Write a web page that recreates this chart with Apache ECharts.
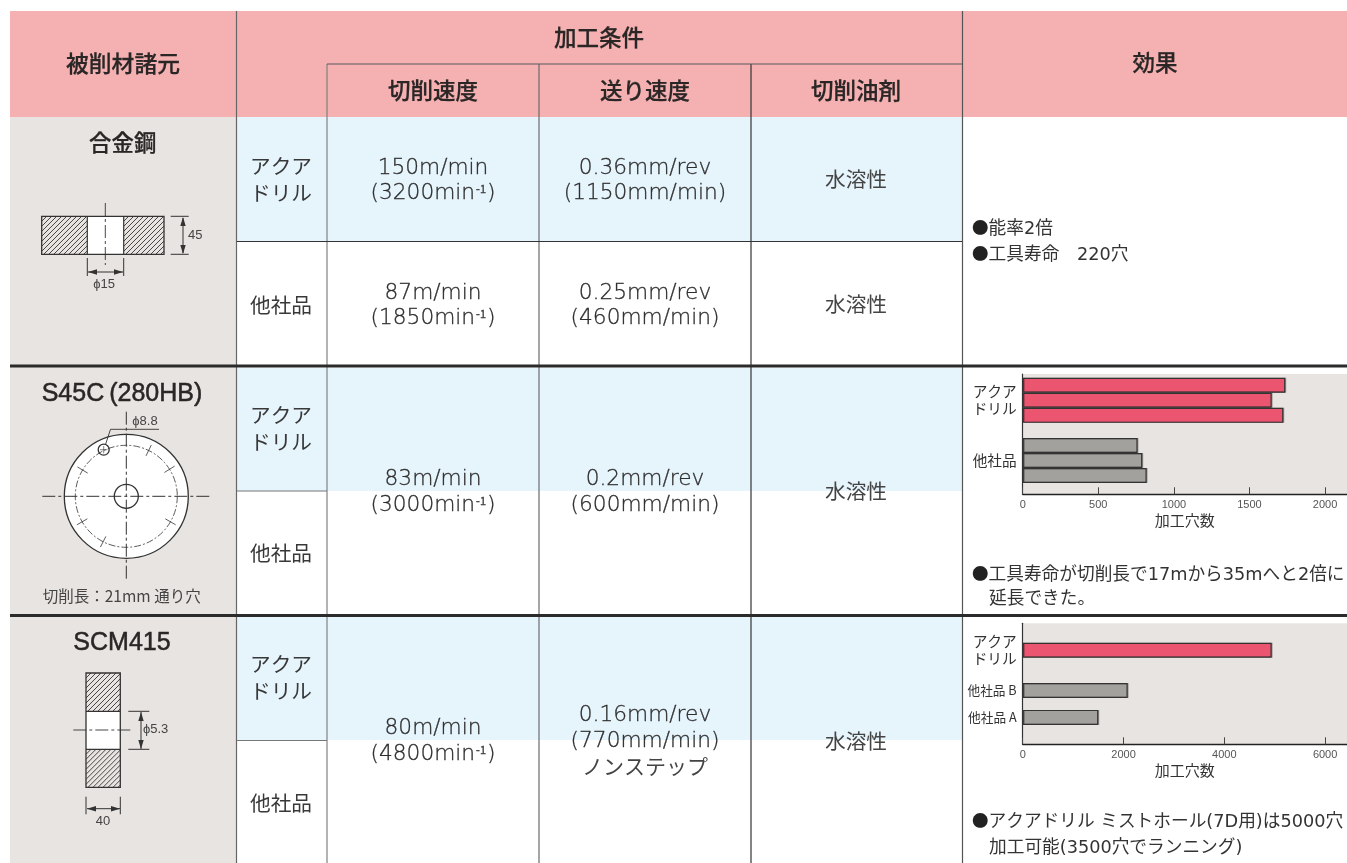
<!DOCTYPE html>
<html><head><meta charset="utf-8">
<style>html,body{margin:0;padding:0;background:#fff}#c{width:1347px;height:863px}</style>
<script src="https://cdn.jsdelivr.net/npm/echarts@6/dist/echarts.min.js"></script>
</head><body><div id="c"></div>
<script>
// ---- chart data ----
const s45cLabels = ['','','','アクア\nドリル','','','','','','','','他社品','','','',''];
const s45cAqua   = [null,1737,null,1647,null,1724,null,null,null,null,null,null,null,null,null,null];
const s45cOther  = [null,null,null,null,null,null,null,null,null,760,null,791,null,820,null,null];
const s45cTicks  = [0,500,1000,1500,2000];
const scmLabels  = ['','','アクア\nドリル','','','他社品 B','','他社品 A','',''];
const scmAqua    = [null,null,4940,null,null,null,null,null,null,null];
const scmOther   = [null,null,null,null,null,2083,null,1500,null,null];
const scmTicks   = [0,2000,4000,6000];
const axisTitle  = '加工穴数';
// ---- table text ----
const headers = ['被削材諸元','加工条件','切削速度','送り速度','切削油剤','効果'];
const materials = ['合金鋼','S45C\u2009(280HB)','SCM415'];
const makers = ['アクア\nドリル','他社品'];
const coolant = '水溶性';
const speedCells = [['150m/min','3200'],['87m/min','1850'],['83m/min','3000'],['80m/min','4800']];
const feedCells = [['0.36mm/rev','(1150mm/min)'],['0.25mm/rev','(460mm/min)'],['0.2mm/rev','(600mm/min)'],['0.16mm/rev','(770mm/min)','ノンステップ']];
const effects = [['能率2倍','工具寿命　220穴'],['工具寿命が切削長で17mから35mへと2倍に','延長できた。'],['アクアドリル ミストホール(7D用)は5000穴','加工可能(3500穴でランニング)']];

const JP = '"Noto Sans CJK JP","Noto Sans",sans-serif';
const LAT = '"DejaVu Sans","Noto Sans CJK JP",sans-serif';
const INK = '#333333', PINK = '#F5B1B2', BLUE = '#E6F4FC', GREY = '#E8E4E1';
const RED = '#EB5570', BARGREY = '#A3A19E';
const g = [];
const rect = (x,y,w,h,fill)=>g.push({type:'rect',silent:true,shape:{x,y,width:w,height:h},style:{fill}});
const line = (x1,y1,x2,y2,stroke=INK,lineWidth=1,lineDash)=>g.push({type:'line',silent:true,shape:{x1,y1,x2,y2},style:{stroke,lineWidth,lineDash}});
const txt = (x,y,text,fontSize,o={})=>g.push({type:'text',silent:true,x,y,style:Object.assign({text,fontSize,fontFamily:JP,fill:'#3a3a3a',align:'center',verticalAlign:'middle'},o)});
const tri = (pts)=>g.push({type:'polygon',silent:true,shape:{points:pts},style:{fill:INK}});
const circle = (cx,cy,r,o)=>g.push({type:'circle',silent:true,shape:{cx,cy,r},style:Object.assign({fill:'#fff',stroke:INK,lineWidth:1.3},o)});

// backgrounds
rect(10,11,1337,106,PINK);
rect(10,117,226,746,GREY);
[[117,124],[368,123],[617,123]].forEach(([y,h])=>rect(237,y,725,h,BLUE));
// grid lines
line(236.5,11,236.5,863,'#666',1.2);
line(327,64,327,863,'#808080',1.2);
line(539,64,539,863,'#6a6a6a',1.2);
line(751,64,751,863,'#333',1.2);
line(962.5,11,962.5,863,'#555',1.2);
line(327,64,962,64,'#5a5a5a',1.2);
line(237,241.5,962,241.5,'#333',1.1);
line(237,491,327,491,'#777',1.2);
line(237,740.5,327,740.5,'#777',1.2);
line(10,366,1347,366,'#2b2b2b',3);
line(10,615.5,1347,615.5,'#2b2b2b',3);

// headers
const HB = {fontWeight:500,fill:'#2a2626',stroke:'#2a2626',lineWidth:0.25};
txt(123,63,headers[0],22.8,HB);
txt(599,37.5,headers[1],22.5,HB);
txt(433,90,headers[2],22.5,HB);
txt(645,90,headers[3],22.5,HB);
txt(856,90,headers[4],22.5,HB);
txt(1155,62,headers[5],22.5,HB);
// materials
txt(122.7,142,materials[0],22.4,HB);
const LB=Object.assign({},HB,{fontFamily:'"Liberation Sans",'+JP,fontWeight:400,lineWidth:0.5});
txt(122,394,materials[1],25,LB);
txt(122,643,materials[2],25,LB);
txt(121.7,596.5,'切削長：21mm 通り穴',15.5,{fill:'#444'});

// maker labels
const mk={fill:'#383838',lineHeight:27};
[179.5,429,677.5].forEach(y=>txt(281,y,makers[0],20.7,mk));
[305,553,803].forEach(y=>txt(281,y,makers[1],20.7,mk));
// coolant
[179,304,491,741].forEach(y=>txt(856,y,coolant,20.7,{fill:'#444'}));

// speed cells
const BF=21.7;
const BC='#2e2e2e';
const body={fontFamily:LAT,fontWeight:200,fill:BC,stroke:BC,lineWidth:0.3};
function speed(y1,y2,c){
  txt(433,y1+1.5,c[0],BF,body);
  txt(433,y2+1.5,'{n|('+c[1]+'min}{s|-1}{n|)}',BF,Object.assign({},body,{rich:{n:{fontFamily:LAT,fontWeight:200,fontSize:BF,fill:BC,stroke:BC,lineWidth:0.3},s:{fontFamily:JP,fontSize:11,fill:'#444',padding:[0,1,9,1]}}}));
}
speed(167,192,speedCells[0]); speed(292,317,speedCells[1]); speed(478,504,speedCells[2]); speed(727,753,speedCells[3]);
function feed(ys,c){ c.forEach((t,i)=>i===2?txt(645,ys[i]-1,t,21,{fill:'#444'}):txt(645,ys[i]+1.5,t,BF,body)); }
feed([167,192],feedCells[0]); feed([292,317],feedCells[1]); feed([478,504],feedCells[2]); feed([714,740,767],feedCells[3]);

// effects
const EF=17.7;
function bullet(y,t){
  txt(972,y,'{b|●}{n|'+t+'}',EF,{align:'left',fontFamily:LAT,rich:{b:{fontFamily:JP,fontSize:16.5,fill:'#222',padding:[0,0,3,0]},n:{fontFamily:LAT,fontSize:EF,fill:'#333'}}});
}
const plain=(y,t)=>txt(989,y,t,EF,{align:'left',fontFamily:LAT,fill:'#333'});
bullet(229,effects[0][0]); bullet(255,effects[0][1]);
bullet(575,effects[1][0]); plain(599,effects[1][1]);
bullet(822,effects[2][0]); plain(848,effects[2][1]);

// hatch helper
function hatch(x0,y0,x1,y1){
  const step=5;
  for(let c=x0+y0+step;c<x1+y1;c+=step){
    const ax=Math.max(x0,c-y1), ay=c-ax, bx=Math.min(x1,c-y0), by=c-bx;
    if(bx>ax) line(ax,ay,bx,by,'#333',0.9);
  }
}
const frame=(x,y,w,h)=>g.push({type:'rect',silent:true,shape:{x,y,width:w,height:h},style:{fill:'none',stroke:'#333',lineWidth:1.3}});
const DD=[13,3,3,3];
const DIM={fontFamily:'"Liberation Sans"',fill:'#444'};
const DIML=Object.assign({},DIM,{align:'left'});
// diagram 1
hatch(41.7,216.3,87.3,254.3); hatch(123.7,216.3,164,254.3);
rect(87.3,216.3,36.4,38,'#fff');
frame(41.7,216.3,122.3,38); line(87.3,216.3,87.3,254.3,'#333',1.2); line(123.7,216.3,123.7,254.3,'#333',1.2);
line(105.3,203,105.3,265,'#333',0.9,DD);
line(170.7,216.3,188.7,216.3); line(170.7,254.3,188.7,254.3); line(183,218,183,253);
tri([[183,217],[180.3,226],[185.7,226]]); tri([[183,254],[180.3,245],[185.7,245]]);
txt(188,235.7,'45',13,DIML);
line(87.3,258,87.3,276); line(123.7,258,123.7,276); line(88,272,123,272);
tri([[88,272],[97,269.3],[97,274.7]]); tri([[123,272],[114,269.3],[114,274.7]]);
txt(104,284,'ϕ15',13,DIM);
// diagram 2
const cx=126.3, cy=496.3;
circle(cx,cy,62);
circle(cx,cy,51,{fill:'none',lineWidth:0.8,lineDash:[7,2,2,2]});
line(42.3,cy,211.7,cy,'#333',1,DD); line(cx,411.7,cx,581,'#333',1,DD);
circle(cx,cy,12,{fill:'none'});
[-64,-32,30,117,150,211].forEach(a=>{const t=a*Math.PI/180,c=Math.cos(t),s=Math.sin(t);line(cx+45*c,cy+45*s,cx+57*c,cy+57*s,'#333',0.8);});
circle(103.7,449.7,5.5,{fill:'none'});
line(100,449.7,107.4,449.7,'#333',0.6); line(103.7,446,103.7,453.4,'#333',0.6);
line(105.5,444.5,110.5,429.3,'#333',0.9); line(110.5,429.3,159,429.3,'#333',0.9);
txt(145,421,'ϕ8.8',13,DIM);
// diagram 3
hatch(86,673,120.3,711.3); hatch(86,749.3,120.3,787.3);
rect(86,711.3,34.3,38,'#fff');
frame(86,673,34.3,114.3); line(86,711.3,120.3,711.3,'#333',1.2); line(86,749.3,120.3,749.3,'#333',1.2);
line(73.3,730,133.3,730,'#333',0.9,DD);
line(128.3,711.3,149.3,711.3); line(128.3,749.3,149.3,749.3); line(141,712,141,749);
tri([[141,712],[138.3,721],[143.7,721]]); tri([[141,749],[138.3,740],[143.7,740]]);
txt(143,729,'ϕ5.3',13,DIML);
line(86,796.7,86,814.3); line(120.3,796.7,120.3,814.3); line(87,808.7,120,808.7);
tri([[87,808.7],[96,806],[96,811.4]]); tri([[120,808.7],[111,806],[111,811.4]]);
txt(103,821,'40',13,DIM);

// charts
const barStyle=(color)=>({color,borderColor:'#333',borderWidth:1.2,shadowColor:'rgba(0,0,0,0.25)',shadowOffsetX:1,shadowOffsetY:0,shadowBlur:0});
function xAxis(gridIndex,max,ticks){
  return {type:'value',gridIndex,min:0,max,position:'bottom',
    axisLine:{show:true,onZero:false,lineStyle:{color:'#222',width:1.3}},
    axisTick:{show:true,inside:true,length:7,customValues:ticks,lineStyle:{color:'#444',width:1}},
    axisLabel:{customValues:ticks,formatter:v=>String(v),color:'#555',fontSize:11,margin:5,fontFamily:'"Liberation Sans"',hideOverlap:false},
    splitLine:{show:false},
    name:axisTitle,nameLocation:'middle',nameGap:18,nameTextStyle:{color:'#333',fontSize:15,fontFamily:JP}};
}
function yAxis(gridIndex,data,boundaryGap){
  return {type:'category',gridIndex,data,inverse:true,boundaryGap,
    axisLine:{show:true,onZero:false,lineStyle:{color:'#333',width:1.2}},axisTick:{show:false},
    axisLabel:{interval:0,color:'#333',fontSize:14.7,lineHeight:17,margin:6,fontFamily:JP,
      formatter:v=>/[AB]$/.test(v)?'{s|'+v+'}':v,
      rich:{s:{fontSize:12.7,fontFamily:JP,color:'#333'}}},splitLine:{show:false}};
}
const series=(i,data,color)=>({type:'bar',xAxisIndex:i,yAxisIndex:i,data,barWidth:15,barGap:'-100%',itemStyle:barStyle(color),silent:true});
const chart=echarts.init(document.getElementById('c'),null,{renderer:'canvas'});
chart.setOption({
  animation:false,backgroundColor:'#fff',
  graphic:{elements:g},
  grid:[
    {left:1022.7,top:374,width:324.3,height:120.3,show:true,backgroundColor:GREY,borderWidth:0,containLabel:false},
    {left:1022.7,top:623.3,width:324.3,height:121,show:true,backgroundColor:GREY,borderWidth:0,containLabel:false}
  ],
  xAxis:[xAxis(0,2145,s45cTicks),xAxis(1,6434,scmTicks)],
  yAxis:[yAxis(0,s45cLabels,true),yAxis(1,scmLabels,false)],
  series:[series(0,s45cAqua,RED),series(0,s45cOther,BARGREY),series(1,scmAqua,RED),series(1,scmOther,BARGREY)]
});
</script></body></html>
